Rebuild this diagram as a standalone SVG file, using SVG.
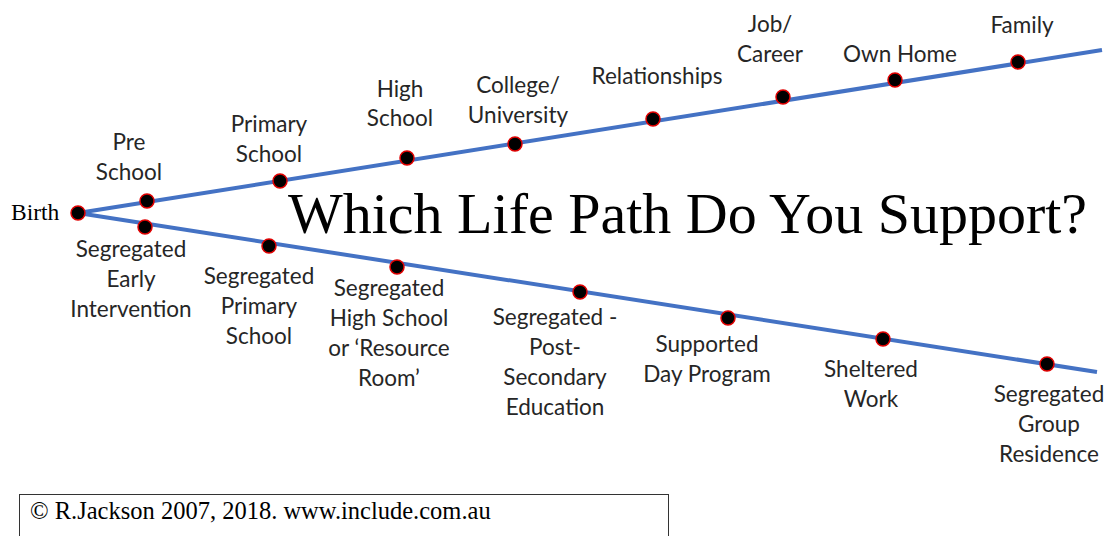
<svg xmlns="http://www.w3.org/2000/svg" width="1108" height="536" viewBox="0 0 1108 536">
  <style>
    .lbl { font-family: Lato, "Open Sans", sans-serif; font-size: 22.5px; fill: #262626; text-anchor: middle; }
    .path { stroke: #4472c4; stroke-width: 4; fill: none; stroke-linecap: butt; }
    .dot { fill: #000; stroke: #e00000; stroke-width: 1.5; }
    .serif { font-family: "Liberation Serif", "Times New Roman", serif; fill: #000; }
  </style>
  <rect width="1108" height="536" fill="#fff"/>

  <!-- the two life paths -->
  <g id="connectors">
    <line class="path" x1="78" y1="213" x2="1102" y2="50"/>
    <line class="path" x1="78" y1="213" x2="1097" y2="372"/>
  </g>

  <g id="title">
    <text class="serif" x="288" y="233" font-size="58">Which Life Path Do You Support?</text>
  </g>

  <g id="birth">
    <text class="serif" x="11" y="220" font-size="23.5">Birth</text>
    <circle class="dot" cx="78" cy="213" r="7"/>
  </g>

  <!-- upper path -->
  <g id="preschool">
    <circle class="dot" cx="147" cy="201" r="7"/>
    <text class="lbl" x="129" y="150">Pre</text>
    <text class="lbl" x="129" y="180">School</text>
  </g>
  <g id="primary-school">
    <circle class="dot" cx="280" cy="181" r="7"/>
    <text class="lbl" x="269" y="132">Primary</text>
    <text class="lbl" x="269" y="162">School</text>
  </g>
  <g id="high-school">
    <circle class="dot" cx="407" cy="158" r="7"/>
    <text class="lbl" x="400" y="97">High</text>
    <text class="lbl" x="400" y="126">School</text>
  </g>
  <g id="college">
    <circle class="dot" cx="515" cy="144" r="7"/>
    <text class="lbl" x="518" y="93">College/</text>
    <text class="lbl" x="518" y="123">University</text>
  </g>
  <g id="relationships">
    <circle class="dot" cx="653" cy="119" r="7"/>
    <text class="lbl" x="657" y="84">Relationships</text>
  </g>
  <g id="career">
    <circle class="dot" cx="783" cy="97" r="7"/>
    <text class="lbl" x="770" y="32">Job/</text>
    <text class="lbl" x="770" y="62">Career</text>
  </g>
  <g id="own-home">
    <circle class="dot" cx="895" cy="80" r="7"/>
    <text class="lbl" x="900" y="62">Own Home</text>
  </g>
  <g id="family">
    <circle class="dot" cx="1018" cy="62" r="7"/>
    <text class="lbl" x="1022" y="33">Family</text>
  </g>

  <!-- lower path -->
  <g id="seg-early">
    <circle class="dot" cx="145" cy="227" r="7"/>
    <text class="lbl" x="131" y="257">Segregated</text>
    <text class="lbl" x="131" y="287">Early</text>
    <text class="lbl" x="131" y="317">Intervention</text>
  </g>
  <g id="seg-primary">
    <circle class="dot" cx="269" cy="246" r="7"/>
    <text class="lbl" x="259" y="284">Segregated</text>
    <text class="lbl" x="259" y="314">Primary</text>
    <text class="lbl" x="259" y="344">School</text>
  </g>
  <g id="seg-high">
    <circle class="dot" cx="397" cy="267" r="7"/>
    <text class="lbl" x="389" y="296">Segregated</text>
    <text class="lbl" x="389" y="326">High School</text>
    <text class="lbl" x="389" y="356">or ‘Resource</text>
    <text class="lbl" x="389" y="386">Room’</text>
  </g>
  <g id="seg-post">
    <circle class="dot" cx="580" cy="292" r="7"/>
    <text class="lbl" x="555" y="325">Segregated -</text>
    <text class="lbl" x="555" y="355">Post-</text>
    <text class="lbl" x="555" y="385">Secondary</text>
    <text class="lbl" x="555" y="415">Education</text>
  </g>
  <g id="day-program">
    <circle class="dot" cx="728" cy="318" r="7"/>
    <text class="lbl" x="707" y="352">Supported</text>
    <text class="lbl" x="707" y="382">Day Program</text>
  </g>
  <g id="sheltered">
    <circle class="dot" cx="883" cy="339" r="7"/>
    <text class="lbl" x="871" y="377">Sheltered</text>
    <text class="lbl" x="871" y="407">Work</text>
  </g>
  <g id="group-residence">
    <circle class="dot" cx="1047" cy="364" r="7"/>
    <text class="lbl" x="1049" y="402">Segregated</text>
    <text class="lbl" x="1049" y="432">Group</text>
    <text class="lbl" x="1049" y="462">Residence</text>
  </g>

  <!-- copyright box -->
  <g id="copyright">
    <rect x="19.5" y="494.5" width="649" height="50" fill="#fff" stroke="#333" stroke-width="1"/>
    <text class="serif" x="30" y="519" font-size="24.5">© R.Jackson 2007, 2018. www.include.com.au</text>
  </g>
</svg>
